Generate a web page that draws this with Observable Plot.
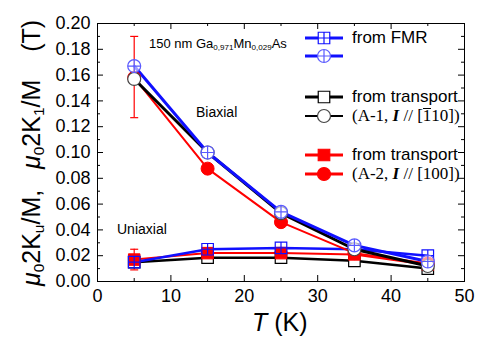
<!DOCTYPE html>
<html><head><meta charset="utf-8">
<script src="https://cdn.jsdelivr.net/npm/d3@7"></script>
<script src="https://cdn.jsdelivr.net/npm/@observablehq/plot@0.6"></script>
<style>
body{margin:0;background:#fff;font-family:"Liberation Sans",Arial,sans-serif;}
#wrap{position:relative;width:487px;height:350px;overflow:hidden;}
.abs{position:absolute;white-space:nowrap;color:#000;}
.leg{position:absolute;left:305px;display:flex;align-items:center;height:20px;}
.leg > span{margin-left:9px;font-size:17px;}
.serif{font-family:"Liberation Serif","Times New Roman",serif;}
.ov{display:inline-block;border-top:1px solid #000;line-height:0.85;}
sub{font-size:62%;vertical-align:-0.3em;line-height:0;}
</style></head>
<body><div id="wrap"></div>
<script>
// temperatures (K)
const temps = [5, 15, 25, 35, 45];
// biaxial 2K1/M (T)
const fmrBiax = [0.167, 0.100, 0.054, 0.028, 0.0155];
const a1Biax  = [0.157, 0.100, 0.053, 0.025, 0.012];
const a2Biax  = [0.158, 0.0875, 0.046, 0.022, 0.014];
// uniaxial 2Ku/M (T)
const fmrUni = [0.015, 0.025, 0.026, 0.025, 0.020];
const a1Uni  = [0.015, 0.0185, 0.0185, 0.016, 0.010];
const a2Uni  = [0.017, 0.022, 0.022, 0.021, 0.013];
// error bars (red, A-2)
const a2BiaxErrLow = [0.127], a2BiaxErrHigh = [0.190];
const a2UniErr = [0.008, 0.004, 0.004, 0.004, 0.004];
// ticks
const xTicks = [0, 10, 20, 30, 40, 50];
const xMinor = [5, 15, 25, 35, 45];
const yTicks = d3.range(0, 0.2001, 0.02);
const yMinor = d3.range(0.01, 0.2, 0.02);

const BLUE = "#1010ff", RED = "#ff0000", BLACK = "#000000";
const W = 487, H = 350, ML = 97, MR = 23, MT = 23, MB = 69;
const PW = W - ML - MR, PH = H - MT - MB;

const squarePlus = {draw(ctx, size){const s=Math.sqrt(size)/2;ctx.moveTo(-s,-s);ctx.lineTo(s,-s);ctx.lineTo(s,s);ctx.lineTo(-s,s);ctx.closePath();ctx.moveTo(0,-s);ctx.lineTo(0,s);ctx.moveTo(-s,0);ctx.lineTo(s,0);}};
const circlePlus = {draw(ctx, size){const r=Math.sqrt(size/Math.PI);ctx.moveTo(r,0);ctx.arc(0,0,r,0,2*Math.PI);ctx.moveTo(0,-r);ctx.lineTo(0,r);ctx.moveTo(-r,0);ctx.lineTo(r,0);}};
const capSym = {draw(ctx){ctx.moveTo(-4,0);ctx.lineTo(4,0);}};

const rows = (ys) => temps.map((t,i)=>({t, v: ys[i]}));
const rowsErr = (ys, e) => temps.map((t,i)=>({t, v: ys[i], lo: ys[i]-e[i], hi: ys[i]+e[i]}));
const biaxErr = [{t: temps[0], lo: a2BiaxErrLow[0], hi: a2BiaxErrHigh[0]}];
const uniErr = rowsErr(a2Uni, a2UniErr);

const line = (ys, stroke, w) => Plot.line(rows(ys), {x:"t", y:"v", stroke, strokeWidth:w});
const cap = (data, key) => Plot.dot(data, {x:"t", y:key, symbol:capSym, stroke:RED, strokeWidth:1.2, r:4});
// inward ticks on all four sides
const inTicksX = (ticks, len) => [
  Plot.ruleX(ticks, {x: d => d, insetTop: PH - len, stroke: "#000"}),
  Plot.ruleX(ticks, {x: d => d, insetBottom: PH - len, stroke: "#000"}),
];
const inTicksY = (ticks, len) => [
  Plot.ruleY(ticks, {y: d => d, insetRight: PW - len, stroke: "#000"}),
  Plot.ruleY(ticks, {y: d => d, insetLeft: PW - len, stroke: "#000"}),
];

const chart = Plot.plot({
  width: W, height: H,
  marginLeft: ML, marginRight: MR, marginTop: MT, marginBottom: MB,
  x: {domain: [0, 50]},
  y: {domain: [0, 0.2]},
  style: {fontFamily: "'Liberation Sans', Arial, sans-serif", fontSize: "18px", color: "#000", background: "#fff"},
  marks: [
    Plot.axisX(xTicks, {tickSize: 0, tickPadding: 8, fontSize: 18, label: null}),
    Plot.axisY(yTicks, {tickSize: 0, tickPadding: 7, fontSize: 18, label: null, tickFormat: d3.format(".2f")}),
    ...inTicksX(xTicks, 6), ...inTicksX(xMinor, 3),
    ...inTicksY(yTicks, 6), ...inTicksY(yMinor, 3),
    Plot.frame({stroke: "#000", strokeWidth: 1}),
    // error bars
    Plot.ruleX(biaxErr, {x:"t", y1:"lo", y2:"hi", stroke:RED, strokeWidth:1.2}),
    cap(biaxErr, "lo"), cap(biaxErr, "hi"),
    Plot.ruleX(uniErr, {x:"t", y1:"lo", y2:"hi", stroke:RED, strokeWidth:1.2}),
    cap(uniErr, "lo"), cap(uniErr, "hi"),
    // lines
    line(a1Uni, BLACK, 2.5), line(a2Uni, RED, 2), line(fmrUni, BLUE, 2.5),
    line(a2Biax, RED, 2), line(a1Biax, BLACK, 3), line(fmrBiax, BLUE, 3),
    // markers
    Plot.dot(rows(a1Uni), {x:"t", y:"v", symbol:"square", r:6.5, fill:"#fff", stroke:BLACK, strokeWidth:1.2}),
    Plot.dot(rows(a2Uni), {x:"t", y:"v", symbol:"square", r:6.5, fill:RED, stroke:RED, strokeWidth:1}),
    Plot.dot(rows(fmrUni), {x:"t", y:"v", symbol:squarePlus, r:6.5, fill:"none", stroke:BLUE, strokeWidth:1.2}),
    Plot.dot(rows(a2Biax), {x:"t", y:"v", symbol:"circle", r:6.5, fill:RED, stroke:RED, strokeWidth:1}),
    Plot.dot(rows(a1Biax), {x:"t", y:"v", symbol:"circle", r:6.5, fill:"#fff", stroke:"#444", strokeWidth:1.2}),
    Plot.dot(rows(fmrBiax), {x:"t", y:"v", symbol:circlePlus, r:6.5, fill:"#fff", fillOpacity:0.6, stroke:"#5a5aff", strokeWidth:1.2}),
  ]
});
const wrap = document.getElementById("wrap");
wrap.appendChild(chart);

function icon(stroke, w, sym, fill, mstroke){
  const p = d3.symbol(sym, Math.PI*6.5*6.5)();
  return `<svg width="38" height="20" style="overflow:visible"><line x1="0" y1="10" x2="38" y2="10" stroke="${stroke}" stroke-width="${w}"/><path transform="translate(19,10)" d="${p}" fill="${fill}" stroke="${mstroke}" stroke-width="1.2"/></svg>`;
}
const legend = [
  {y: 28, html: icon(BLUE, 3, squarePlus, "#fff", BLUE) + '<span>from FMR</span>'},
  {y: 46, html: icon(BLUE, 3, circlePlus, "#fff", "#5a5aff")},
  {y: 87, html: icon(BLACK, 3, d3.symbolSquare, "#fff", BLACK) + '<span>from transport</span>'},
  {y: 106, html: icon(BLACK, 2, d3.symbolCircle, "#fff", "#444") + '<span class="serif">(A-1, <b><i>I</i></b> // [<span class="ov">1</span>10])</span>'},
  {y: 145, html: icon(RED, 3, d3.symbolSquare, RED, RED) + '<span>from transport</span>'},
  {y: 164, html: icon(RED, 3, d3.symbolCircle, RED, RED) + '<span class="serif">(A-2, <b><i>I</i></b> // [100])</span>'},
];
for (const l of legend){
  const d = document.createElement("div");
  d.className = "leg"; d.style.top = l.y + "px"; d.innerHTML = l.html;
  wrap.appendChild(d);
}
function txt(html, left, top, size, extra=""){
  const d = document.createElement("div");
  d.className = "abs"; d.style.left = left+"px"; d.style.top = top+"px"; d.style.fontSize = size+"px";
  d.style.cssText += extra; d.innerHTML = html; wrap.appendChild(d);
}
txt('150 nm Ga<sub>0,971</sub>Mn<sub>0,029</sub>As', 149, 36, 13);
txt('Biaxial', 196, 104, 14);
txt('Uniaxial', 117, 221, 14);
txt('<i>T</i> (K)', 252, 308, 25);
txt('<i>μ</i><sub>0</sub>2K<sub>u</sub>/M,&nbsp;&nbsp;&nbsp;<i>μ</i><sub>0</sub>2K<sub>1</sub>/M&nbsp;&nbsp;&nbsp;&nbsp;(T)', 31, 153, 25,
  "transform:translate(-50%,-50%) rotate(-90deg);transform-origin:center;");
</script></body></html>
